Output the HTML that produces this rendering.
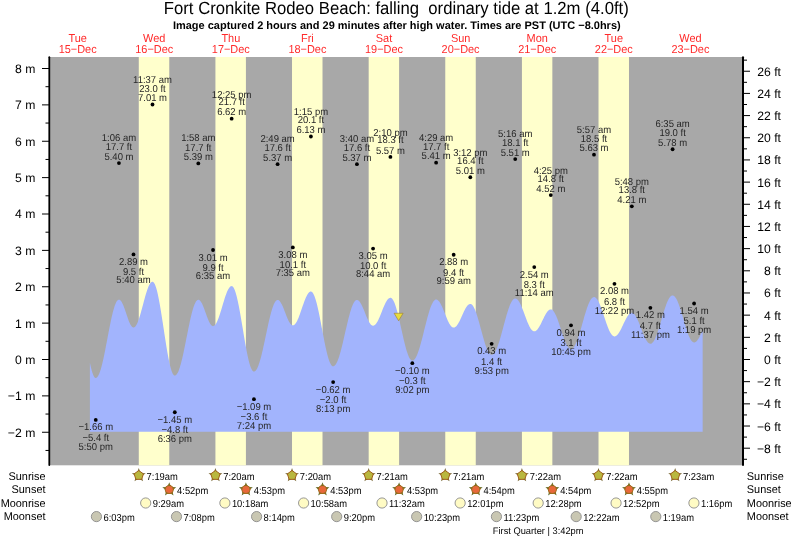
<!DOCTYPE html><html><head><meta charset="utf-8"><style>html,body{margin:0;padding:0;background:#fff;width:793px;height:539px;overflow:hidden}svg{display:block;will-change:transform}text{font-family:"Liberation Sans", sans-serif;text-rendering:geometricPrecision}</style></head><body>
<svg width="793" height="539" viewBox="0 0 793 539">
<text transform="translate(396.3,14.4) scale(0.949,1)" font-size="17.6" text-anchor="middle" fill="#000">Fort Cronkite Rodeo Beach: falling&#160; ordinary tide at 1.2m (4.0ft)</text>
<text transform="translate(396.8,28.8) scale(0.999,1)" font-size="11" font-weight="bold" text-anchor="middle" fill="#000">Image captured 2 hours and 29 minutes after high water. Times are PST (UTC −8.0hrs)</text>
<text transform="translate(77.63,41.8) scale(0.95,1)" font-size="11.5" text-anchor="middle" fill="#ff2a2a">Tue</text>
<text transform="translate(77.63,53.1) scale(0.95,1)" font-size="11.5" text-anchor="middle" fill="#ff2a2a">15−Dec</text>
<text transform="translate(154.22,41.8) scale(0.95,1)" font-size="11.5" text-anchor="middle" fill="#ff2a2a">Wed</text>
<text transform="translate(154.22,53.1) scale(0.95,1)" font-size="11.5" text-anchor="middle" fill="#ff2a2a">16−Dec</text>
<text transform="translate(230.82,41.8) scale(0.95,1)" font-size="11.5" text-anchor="middle" fill="#ff2a2a">Thu</text>
<text transform="translate(230.82,53.1) scale(0.95,1)" font-size="11.5" text-anchor="middle" fill="#ff2a2a">17−Dec</text>
<text transform="translate(307.42,41.8) scale(0.95,1)" font-size="11.5" text-anchor="middle" fill="#ff2a2a">Fri</text>
<text transform="translate(307.42,53.1) scale(0.95,1)" font-size="11.5" text-anchor="middle" fill="#ff2a2a">18−Dec</text>
<text transform="translate(384.01,41.8) scale(0.95,1)" font-size="11.5" text-anchor="middle" fill="#ff2a2a">Sat</text>
<text transform="translate(384.01,53.1) scale(0.95,1)" font-size="11.5" text-anchor="middle" fill="#ff2a2a">19−Dec</text>
<text transform="translate(460.61,41.8) scale(0.95,1)" font-size="11.5" text-anchor="middle" fill="#ff2a2a">Sun</text>
<text transform="translate(460.61,53.1) scale(0.95,1)" font-size="11.5" text-anchor="middle" fill="#ff2a2a">20−Dec</text>
<text transform="translate(537.20,41.8) scale(0.95,1)" font-size="11.5" text-anchor="middle" fill="#ff2a2a">Mon</text>
<text transform="translate(537.20,53.1) scale(0.95,1)" font-size="11.5" text-anchor="middle" fill="#ff2a2a">21−Dec</text>
<text transform="translate(613.80,41.8) scale(0.95,1)" font-size="11.5" text-anchor="middle" fill="#ff2a2a">Tue</text>
<text transform="translate(613.80,53.1) scale(0.95,1)" font-size="11.5" text-anchor="middle" fill="#ff2a2a">22−Dec</text>
<text transform="translate(690.40,41.8) scale(0.95,1)" font-size="11.5" text-anchor="middle" fill="#ff2a2a">Wed</text>
<text transform="translate(690.40,53.1) scale(0.95,1)" font-size="11.5" text-anchor="middle" fill="#ff2a2a">23−Dec</text>
<rect x="50.0" y="57.0" width="692.0" height="408.3" fill="#a8a8a8"/>
<rect x="138.78" y="57.0" width="30.48" height="408.3" fill="#ffffcc"/>
<rect x="215.43" y="57.0" width="30.48" height="408.3" fill="#ffffcc"/>
<rect x="292.02" y="57.0" width="30.48" height="408.3" fill="#ffffcc"/>
<rect x="368.67" y="57.0" width="30.43" height="408.3" fill="#ffffcc"/>
<rect x="445.27" y="57.0" width="30.48" height="408.3" fill="#ffffcc"/>
<rect x="521.92" y="57.0" width="30.43" height="408.3" fill="#ffffcc"/>
<rect x="598.51" y="57.0" width="30.48" height="408.3" fill="#ffffcc"/>
<path d="M89.89,431.70 L89.89,362.58 L90.40,365.01 L90.92,367.26 L91.43,369.32 L91.94,371.18 L92.45,372.83 L92.96,374.26 L93.47,375.46 L93.98,376.43 L94.49,377.16 L95.00,377.64 L95.51,377.88 L96.02,377.88 L96.53,377.68 L97.04,377.30 L97.55,376.74 L98.06,375.99 L98.57,375.06 L99.09,373.97 L99.60,372.70 L100.11,371.27 L100.62,369.68 L101.13,367.95 L101.64,366.08 L102.15,364.08 L102.66,361.95 L103.17,359.72 L103.68,357.38 L104.19,354.96 L104.70,352.46 L105.21,349.89 L105.72,347.27 L106.23,344.61 L106.75,341.92 L107.26,339.22 L107.77,336.51 L108.28,333.82 L108.79,331.15 L109.30,328.51 L109.81,325.92 L110.32,323.40 L110.83,320.95 L111.34,318.58 L111.85,316.31 L112.36,314.15 L112.87,312.11 L113.38,310.19 L113.89,308.41 L114.40,306.78 L114.92,305.29 L115.43,303.97 L115.94,302.82 L116.45,301.83 L116.96,301.03 L117.47,300.40 L117.98,299.96 L118.49,299.70 L119.00,299.63 L119.51,299.74 L120.02,300.01 L120.53,300.44 L121.04,301.04 L121.55,301.79 L122.06,302.67 L122.57,303.69 L123.09,304.83 L123.60,306.08 L124.11,307.41 L124.62,308.82 L125.13,310.29 L125.64,311.79 L126.15,313.32 L126.66,314.85 L127.17,316.36 L127.68,317.84 L128.19,319.27 L128.70,320.63 L129.21,321.90 L129.72,323.07 L130.23,324.13 L130.75,325.06 L131.26,325.85 L131.77,326.49 L132.28,326.97 L132.79,327.29 L133.30,327.44 L133.81,327.43 L134.32,327.25 L134.83,326.92 L135.34,326.42 L135.85,325.77 L136.36,324.96 L136.87,324.02 L137.38,322.93 L137.89,321.71 L138.40,320.37 L138.92,318.92 L139.43,317.37 L139.94,315.72 L140.45,314.00 L140.96,312.21 L141.47,310.36 L141.98,308.48 L142.49,306.57 L143.00,304.64 L143.51,302.71 L144.02,300.80 L144.53,298.91 L145.04,297.07 L145.55,295.27 L146.06,293.55 L146.58,291.90 L147.09,290.35 L147.60,288.89 L148.11,287.55 L148.62,286.33 L149.13,285.24 L149.64,284.29 L150.15,283.49 L150.66,282.83 L151.17,282.33 L151.68,281.99 L152.19,281.81 L152.70,281.80 L153.21,282.02 L153.72,282.48 L154.23,283.17 L154.75,284.11 L155.26,285.27 L155.77,286.66 L156.28,288.27 L156.79,290.09 L157.30,292.10 L157.81,294.31 L158.32,296.69 L158.83,299.24 L159.34,301.94 L159.85,304.78 L160.36,307.75 L160.87,310.82 L161.38,313.98 L161.89,317.23 L162.40,320.53 L162.92,323.87 L163.43,327.24 L163.94,330.61 L164.45,333.98 L164.96,337.31 L165.47,340.61 L165.98,343.84 L166.49,346.99 L167.00,350.05 L167.51,352.99 L168.02,355.82 L168.53,358.50 L169.04,361.02 L169.55,363.38 L170.06,365.56 L170.58,367.55 L171.09,369.33 L171.60,370.91 L172.11,372.27 L172.62,373.40 L173.13,374.30 L173.64,374.96 L174.15,375.39 L174.66,375.57 L175.17,375.53 L175.68,375.31 L176.19,374.91 L176.70,374.34 L177.21,373.60 L177.72,372.70 L178.23,371.63 L178.75,370.40 L179.26,369.02 L179.77,367.49 L180.28,365.82 L180.79,364.03 L181.30,362.11 L181.81,360.08 L182.32,357.94 L182.83,355.71 L183.34,353.39 L183.85,351.00 L184.36,348.55 L184.87,346.05 L185.38,343.51 L185.89,340.94 L186.40,338.36 L186.92,335.77 L187.43,333.19 L187.94,330.64 L188.45,328.11 L188.96,325.63 L189.47,323.21 L189.98,320.85 L190.49,318.58 L191.00,316.39 L191.51,314.29 L192.02,312.31 L192.53,310.45 L193.04,308.71 L193.55,307.11 L194.06,305.65 L194.58,304.34 L195.09,303.18 L195.60,302.19 L196.11,301.35 L196.62,300.69 L197.13,300.20 L197.64,299.89 L198.15,299.75 L198.66,299.78 L199.17,299.97 L199.68,300.31 L200.19,300.80 L200.70,301.44 L201.21,302.21 L201.72,303.11 L202.23,304.12 L202.75,305.24 L203.26,306.45 L203.77,307.74 L204.28,309.09 L204.79,310.48 L205.30,311.90 L205.81,313.34 L206.32,314.77 L206.83,316.18 L207.34,317.55 L207.85,318.86 L208.36,320.11 L208.87,321.27 L209.38,322.33 L209.89,323.28 L210.41,324.11 L210.92,324.81 L211.43,325.36 L211.94,325.77 L212.45,326.03 L212.96,326.13 L213.47,326.07 L213.98,325.87 L214.49,325.53 L215.00,325.03 L215.51,324.40 L216.02,323.64 L216.53,322.74 L217.04,321.72 L217.55,320.58 L218.06,319.34 L218.58,317.99 L219.09,316.56 L219.60,315.06 L220.11,313.48 L220.62,311.85 L221.13,310.18 L221.64,308.48 L222.15,306.76 L222.66,305.04 L223.17,303.32 L223.68,301.63 L224.19,299.97 L224.70,298.35 L225.21,296.79 L225.72,295.30 L226.23,293.89 L226.75,292.57 L227.26,291.36 L227.77,290.25 L228.28,289.26 L228.79,288.39 L229.30,287.66 L229.81,287.06 L230.32,286.61 L230.83,286.29 L231.34,286.13 L231.85,286.12 L232.36,286.32 L232.87,286.74 L233.38,287.37 L233.89,288.23 L234.41,289.29 L234.92,290.55 L235.43,292.02 L235.94,293.67 L236.45,295.51 L236.96,297.52 L237.47,299.69 L237.98,302.02 L238.49,304.48 L239.00,307.07 L239.51,309.77 L240.02,312.57 L240.53,315.45 L241.04,318.41 L241.55,321.42 L242.06,324.46 L242.58,327.53 L243.09,330.61 L243.60,333.67 L244.11,336.71 L244.62,339.72 L245.13,342.66 L245.64,345.53 L246.15,348.32 L246.66,351.01 L247.17,353.58 L247.68,356.02 L248.19,358.32 L248.70,360.47 L249.21,362.46 L249.72,364.27 L250.23,365.90 L250.75,367.33 L251.26,368.57 L251.77,369.60 L252.28,370.42 L252.79,371.03 L253.30,371.41 L253.81,371.58 L254.32,371.54 L254.83,371.33 L255.34,370.96 L255.85,370.43 L256.36,369.75 L256.87,368.90 L257.38,367.90 L257.89,366.76 L258.41,365.47 L258.92,364.05 L259.43,362.49 L259.94,360.82 L260.45,359.03 L260.96,357.13 L261.47,355.13 L261.98,353.05 L262.49,350.88 L263.00,348.65 L263.51,346.36 L264.02,344.02 L264.53,341.64 L265.04,339.23 L265.55,336.81 L266.06,334.38 L266.58,331.96 L267.09,329.56 L267.60,327.19 L268.11,324.85 L268.62,322.57 L269.13,320.34 L269.64,318.19 L270.15,316.12 L270.66,314.14 L271.17,312.25 L271.68,310.48 L272.19,308.82 L272.70,307.28 L273.21,305.88 L273.72,304.61 L274.24,303.49 L274.75,302.51 L275.26,301.69 L275.77,301.03 L276.28,300.52 L276.79,300.17 L277.30,299.99 L277.81,299.97 L278.32,300.10 L278.83,300.37 L279.34,300.77 L279.85,301.30 L280.36,301.96 L280.87,302.74 L281.38,303.63 L281.89,304.62 L282.41,305.70 L282.92,306.86 L283.43,308.08 L283.94,309.35 L284.45,310.66 L284.96,311.99 L285.47,313.33 L285.98,314.66 L286.49,315.97 L287.00,317.24 L287.51,318.46 L288.02,319.61 L288.53,320.69 L289.04,321.68 L289.55,322.57 L290.06,323.35 L290.58,324.01 L291.09,324.55 L291.60,324.95 L292.11,325.21 L292.62,325.34 L293.13,325.33 L293.64,325.18 L294.15,324.90 L294.66,324.49 L295.17,323.96 L295.68,323.31 L296.19,322.53 L296.70,321.65 L297.21,320.66 L297.72,319.58 L298.24,318.41 L298.75,317.16 L299.26,315.84 L299.77,314.46 L300.28,313.04 L300.79,311.58 L301.30,310.10 L301.81,308.60 L302.32,307.10 L302.83,305.61 L303.34,304.15 L303.85,302.72 L304.36,301.33 L304.87,300.00 L305.38,298.73 L305.89,297.55 L306.41,296.44 L306.92,295.44 L307.43,294.53 L307.94,293.73 L308.45,293.05 L308.96,292.49 L309.47,292.06 L309.98,291.75 L310.49,291.58 L311.00,291.54 L311.51,291.67 L312.02,292.00 L312.53,292.52 L313.04,293.23 L313.55,294.13 L314.06,295.20 L314.58,296.46 L315.09,297.88 L315.60,299.46 L316.11,301.20 L316.62,303.08 L317.13,305.09 L317.64,307.23 L318.15,309.49 L318.66,311.84 L319.17,314.29 L319.68,316.81 L320.19,319.39 L320.70,322.02 L321.21,324.69 L321.72,327.38 L322.24,330.08 L322.75,332.77 L323.26,335.45 L323.77,338.09 L324.28,340.68 L324.79,343.21 L325.30,345.67 L325.81,348.04 L326.32,350.31 L326.83,352.47 L327.34,354.50 L327.85,356.41 L328.36,358.17 L328.87,359.78 L329.38,361.23 L329.89,362.51 L330.41,363.62 L330.92,364.54 L331.43,365.28 L331.94,365.84 L332.45,366.20 L332.96,366.36 L333.47,366.34 L333.98,366.17 L334.49,365.85 L335.00,365.37 L335.51,364.76 L336.02,363.99 L336.53,363.09 L337.04,362.05 L337.55,360.88 L338.07,359.59 L338.58,358.17 L339.09,356.64 L339.60,355.00 L340.11,353.27 L340.62,351.44 L341.13,349.53 L341.64,347.54 L342.15,345.49 L342.66,343.38 L343.17,341.23 L343.68,339.04 L344.19,336.82 L344.70,334.59 L345.21,332.35 L345.72,330.12 L346.24,327.89 L346.75,325.69 L347.26,323.53 L347.77,321.41 L348.28,319.34 L348.79,317.34 L349.30,315.41 L349.81,313.56 L350.32,311.79 L350.83,310.13 L351.34,308.57 L351.85,307.12 L352.36,305.79 L352.87,304.59 L353.38,303.51 L353.89,302.57 L354.41,301.77 L354.92,301.11 L355.43,300.60 L355.94,300.24 L356.45,300.03 L356.96,299.96 L357.47,300.04 L357.98,300.24 L358.49,300.56 L359.00,301.00 L359.51,301.56 L360.02,302.23 L360.53,303.01 L361.04,303.88 L361.55,304.84 L362.07,305.88 L362.58,306.98 L363.09,308.15 L363.60,309.36 L364.11,310.60 L364.62,311.87 L365.13,313.14 L365.64,314.41 L366.15,315.67 L366.66,316.90 L367.17,318.09 L367.68,319.22 L368.19,320.30 L368.70,321.30 L369.21,322.21 L369.72,323.04 L370.24,323.76 L370.75,324.38 L371.26,324.88 L371.77,325.26 L372.28,325.53 L372.79,325.66 L373.30,325.67 L373.81,325.56 L374.32,325.34 L374.83,324.99 L375.34,324.53 L375.85,323.97 L376.36,323.29 L376.87,322.52 L377.38,321.66 L377.89,320.71 L378.41,319.68 L378.92,318.59 L379.43,317.44 L379.94,316.24 L380.45,315.00 L380.96,313.73 L381.47,312.44 L381.98,311.15 L382.49,309.86 L383.00,308.59 L383.51,307.35 L384.02,306.14 L384.53,304.98 L385.04,303.88 L385.55,302.84 L386.07,301.88 L386.58,301.01 L387.09,300.23 L387.60,299.54 L388.11,298.96 L388.62,298.49 L389.13,298.13 L389.64,297.89 L390.15,297.76 L390.66,297.76 L391.17,297.92 L391.68,298.25 L392.19,298.75 L392.70,299.40 L393.21,300.22 L393.72,301.19 L394.24,302.31 L394.75,303.58 L395.26,304.98 L395.77,306.51 L396.28,308.17 L396.79,309.93 L397.30,311.80 L397.81,313.77 L398.32,315.81 L398.83,317.93 L399.34,320.10 L399.85,322.33 L400.36,324.59 L400.87,326.88 L401.38,329.18 L401.90,331.48 L402.41,333.76 L402.92,336.02 L403.43,338.25 L403.94,340.43 L404.45,342.54 L404.96,344.59 L405.47,346.55 L405.98,348.42 L406.49,350.19 L407.00,351.84 L407.51,353.37 L408.02,354.77 L408.53,356.04 L409.04,357.16 L409.55,358.13 L410.07,358.95 L410.58,359.61 L411.09,360.10 L411.60,360.43 L412.11,360.59 L412.62,360.59 L413.13,360.44 L413.64,360.16 L414.15,359.74 L414.66,359.19 L415.17,358.50 L415.68,357.68 L416.19,356.74 L416.70,355.68 L417.21,354.49 L417.72,353.20 L418.24,351.81 L418.75,350.31 L419.26,348.72 L419.77,347.05 L420.28,345.30 L420.79,343.48 L421.30,341.60 L421.81,339.67 L422.32,337.69 L422.83,335.68 L423.34,333.64 L423.85,331.59 L424.36,329.53 L424.87,327.47 L425.38,325.42 L425.90,323.40 L426.41,321.40 L426.92,319.45 L427.43,317.54 L427.94,315.69 L428.45,313.91 L428.96,312.20 L429.47,310.57 L429.98,309.03 L430.49,307.58 L431.00,306.24 L431.51,305.00 L432.02,303.88 L432.53,302.88 L433.04,302.00 L433.55,301.25 L434.07,300.64 L434.58,300.15 L435.09,299.80 L435.60,299.59 L436.11,299.52 L436.62,299.57 L437.13,299.75 L437.64,300.04 L438.15,300.44 L438.66,300.95 L439.17,301.56 L439.68,302.28 L440.19,303.09 L440.70,303.98 L441.21,304.96 L441.72,306.01 L442.24,307.12 L442.75,308.28 L443.26,309.49 L443.77,310.73 L444.28,312.00 L444.79,313.28 L445.30,314.56 L445.81,315.83 L446.32,317.08 L446.83,318.31 L447.34,319.49 L447.85,320.63 L448.36,321.70 L448.87,322.71 L449.38,323.64 L449.90,324.49 L450.41,325.24 L450.92,325.90 L451.43,326.45 L451.94,326.90 L452.45,327.23 L452.96,327.46 L453.47,327.56 L453.98,327.55 L454.49,327.43 L455.00,327.20 L455.51,326.86 L456.02,326.43 L456.53,325.89 L457.04,325.26 L457.55,324.54 L458.07,323.74 L458.58,322.86 L459.09,321.92 L459.60,320.93 L460.11,319.88 L460.62,318.80 L461.13,317.68 L461.64,316.55 L462.15,315.42 L462.66,314.28 L463.17,313.16 L463.68,312.07 L464.19,311.01 L464.70,309.99 L465.21,309.02 L465.73,308.12 L466.24,307.29 L466.75,306.54 L467.26,305.87 L467.77,305.30 L468.28,304.82 L468.79,304.44 L469.30,304.17 L469.81,304.01 L470.32,303.95 L470.83,304.03 L471.34,304.24 L471.85,304.60 L472.36,305.09 L472.87,305.73 L473.38,306.50 L473.90,307.39 L474.41,308.41 L474.92,309.55 L475.43,310.80 L475.94,312.16 L476.45,313.61 L476.96,315.15 L477.47,316.77 L477.98,318.47 L478.49,320.22 L479.00,322.03 L479.51,323.88 L480.02,325.75 L480.53,327.65 L481.04,329.56 L481.55,331.47 L482.07,333.36 L482.58,335.24 L483.09,337.08 L483.60,338.87 L484.11,340.61 L484.62,342.29 L485.13,343.89 L485.64,345.42 L486.15,346.85 L486.66,348.18 L487.17,349.41 L487.68,350.52 L488.19,351.51 L488.70,352.38 L489.21,353.12 L489.73,353.72 L490.24,354.18 L490.75,354.51 L491.26,354.69 L491.77,354.73 L492.28,354.63 L492.79,354.41 L493.30,354.05 L493.81,353.57 L494.32,352.97 L494.83,352.24 L495.34,351.39 L495.85,350.43 L496.36,349.35 L496.87,348.18 L497.38,346.90 L497.90,345.52 L498.41,344.06 L498.92,342.52 L499.43,340.90 L499.94,339.22 L500.45,337.48 L500.96,335.69 L501.47,333.86 L501.98,331.99 L502.49,330.10 L503.00,328.19 L503.51,326.27 L504.02,324.36 L504.53,322.45 L505.04,320.57 L505.55,318.71 L506.07,316.89 L506.58,315.11 L507.09,313.39 L507.60,311.73 L508.11,310.13 L508.62,308.61 L509.13,307.18 L509.64,305.84 L510.15,304.59 L510.66,303.44 L511.17,302.40 L511.68,301.47 L512.19,300.66 L512.70,299.97 L513.21,299.41 L513.73,298.96 L514.24,298.65 L514.75,298.46 L515.26,298.41 L515.77,298.48 L516.28,298.66 L516.79,298.96 L517.30,299.37 L517.81,299.90 L518.32,300.53 L518.83,301.26 L519.34,302.08 L519.85,303.00 L520.36,304.00 L520.87,305.08 L521.38,306.23 L521.90,307.44 L522.41,308.70 L522.92,310.01 L523.43,311.35 L523.94,312.71 L524.45,314.09 L524.96,315.48 L525.47,316.86 L525.98,318.23 L526.49,319.58 L527.00,320.89 L527.51,322.16 L528.02,323.37 L528.53,324.53 L529.04,325.62 L529.56,326.63 L530.07,327.56 L530.58,328.40 L531.09,329.14 L531.60,329.78 L532.11,330.31 L532.62,330.74 L533.13,331.05 L533.64,331.25 L534.15,331.34 L534.66,331.31 L535.17,331.17 L535.68,330.94 L536.19,330.61 L536.70,330.17 L537.21,329.65 L537.73,329.04 L538.24,328.35 L538.75,327.59 L539.26,326.75 L539.77,325.86 L540.28,324.91 L540.79,323.92 L541.30,322.90 L541.81,321.85 L542.32,320.79 L542.83,319.73 L543.34,318.67 L543.85,317.63 L544.36,316.61 L544.87,315.63 L545.38,314.70 L545.90,313.81 L546.41,312.99 L546.92,312.24 L547.43,311.56 L547.94,310.97 L548.45,310.46 L548.96,310.05 L549.47,309.73 L549.98,309.52 L550.49,309.41 L551.00,309.40 L551.51,309.51 L552.02,309.74 L552.53,310.10 L553.04,310.58 L553.56,311.18 L554.07,311.89 L554.58,312.71 L555.09,313.63 L555.60,314.65 L556.11,315.77 L556.62,316.97 L557.13,318.24 L557.64,319.59 L558.15,320.99 L558.66,322.45 L559.17,323.95 L559.68,325.48 L560.19,327.04 L560.70,328.61 L561.21,330.18 L561.73,331.75 L562.24,333.30 L562.75,334.83 L563.26,336.32 L563.77,337.77 L564.28,339.16 L564.79,340.50 L565.30,341.76 L565.81,342.94 L566.32,344.03 L566.83,345.03 L567.34,345.94 L567.85,346.73 L568.36,347.42 L568.87,347.99 L569.38,348.45 L569.90,348.78 L570.41,348.99 L570.92,349.08 L571.43,349.04 L571.94,348.87 L572.45,348.58 L572.96,348.16 L573.47,347.62 L573.98,346.97 L574.49,346.19 L575.00,345.31 L575.51,344.31 L576.02,343.21 L576.53,342.02 L577.04,340.73 L577.56,339.35 L578.07,337.90 L578.58,336.37 L579.09,334.78 L579.60,333.13 L580.11,331.44 L580.62,329.70 L581.13,327.93 L581.64,326.13 L582.15,324.33 L582.66,322.51 L583.17,320.70 L583.68,318.90 L584.19,317.12 L584.70,315.37 L585.21,313.66 L585.73,311.99 L586.24,310.38 L586.75,308.82 L587.26,307.34 L587.77,305.94 L588.28,304.61 L588.79,303.38 L589.30,302.25 L589.81,301.21 L590.32,300.28 L590.83,299.47 L591.34,298.77 L591.85,298.18 L592.36,297.72 L592.87,297.38 L593.39,297.17 L593.90,297.08 L594.41,297.12 L594.92,297.28 L595.43,297.56 L595.94,297.95 L596.45,298.46 L596.96,299.08 L597.47,299.82 L597.98,300.65 L598.49,301.59 L599.00,302.61 L599.51,303.73 L600.02,304.92 L600.53,306.19 L601.04,307.52 L601.56,308.91 L602.07,310.34 L602.58,311.82 L603.09,313.32 L603.60,314.85 L604.11,316.39 L604.62,317.93 L605.13,319.46 L605.64,320.98 L606.15,322.47 L606.66,323.93 L607.17,325.34 L607.68,326.70 L608.19,328.00 L608.70,329.23 L609.21,330.38 L609.73,331.45 L610.24,332.43 L610.75,333.31 L611.26,334.10 L611.77,334.77 L612.28,335.34 L612.79,335.79 L613.30,336.12 L613.81,336.34 L614.32,336.43 L614.83,336.41 L615.34,336.29 L615.85,336.07 L616.36,335.75 L616.87,335.34 L617.39,334.83 L617.90,334.24 L618.41,333.56 L618.92,332.81 L619.43,331.99 L619.94,331.10 L620.45,330.16 L620.96,329.18 L621.47,328.15 L621.98,327.09 L622.49,326.02 L623.00,324.93 L623.51,323.84 L624.02,322.75 L624.53,321.68 L625.04,320.64 L625.56,319.63 L626.07,318.66 L626.58,317.75 L627.09,316.89 L627.60,316.10 L628.11,315.38 L628.62,314.74 L629.13,314.19 L629.64,313.72 L630.15,313.35 L630.66,313.08 L631.17,312.90 L631.68,312.83 L632.19,312.86 L632.70,313.00 L633.21,313.26 L633.73,313.63 L634.24,314.11 L634.75,314.69 L635.26,315.38 L635.77,316.16 L636.28,317.04 L636.79,318.00 L637.30,319.03 L637.81,320.13 L638.32,321.30 L638.83,322.52 L639.34,323.78 L639.85,325.07 L640.36,326.39 L640.87,327.72 L641.39,329.06 L641.90,330.39 L642.41,331.70 L642.92,332.99 L643.43,334.24 L643.94,335.45 L644.45,336.61 L644.96,337.70 L645.47,338.73 L645.98,339.67 L646.49,340.54 L647.00,341.31 L647.51,341.98 L648.02,342.55 L648.53,343.01 L649.04,343.37 L649.56,343.61 L650.07,343.74 L650.58,343.75 L651.09,343.63 L651.60,343.40 L652.11,343.03 L652.62,342.55 L653.13,341.95 L653.64,341.23 L654.15,340.40 L654.66,339.46 L655.17,338.41 L655.68,337.27 L656.19,336.04 L656.70,334.72 L657.22,333.32 L657.73,331.85 L658.24,330.32 L658.75,328.73 L659.26,327.09 L659.77,325.41 L660.28,323.71 L660.79,321.98 L661.30,320.24 L661.81,318.50 L662.32,316.76 L662.83,315.04 L663.34,313.34 L663.85,311.67 L664.36,310.04 L664.87,308.47 L665.39,306.95 L665.90,305.50 L666.41,304.12 L666.92,302.82 L667.43,301.61 L667.94,300.49 L668.45,299.47 L668.96,298.56 L669.47,297.75 L669.98,297.06 L670.49,296.49 L671.00,296.04 L671.51,295.71 L672.02,295.50 L672.53,295.42 L673.04,295.46 L673.56,295.64 L674.07,295.95 L674.58,296.38 L675.09,296.94 L675.60,297.63 L676.11,298.43 L676.62,299.34 L677.13,300.37 L677.64,301.49 L678.15,302.72 L678.66,304.03 L679.17,305.43 L679.68,306.91 L680.19,308.45 L680.70,310.04 L681.22,311.69 L681.73,313.38 L682.24,315.10 L682.75,316.84 L683.26,318.59 L683.77,320.35 L684.28,322.09 L684.79,323.82 L685.30,325.52 L685.81,327.19 L686.32,328.80 L686.83,330.37 L687.34,331.87 L687.85,333.29 L688.36,334.64 L688.87,335.90 L689.39,337.06 L689.90,338.13 L690.41,339.09 L690.92,339.93 L691.43,340.66 L691.94,341.26 L692.45,341.75 L692.96,342.10 L693.47,342.33 L693.98,342.42 L694.49,342.39 L695.00,342.26 L695.51,342.02 L696.02,341.67 L696.53,341.23 L697.04,340.69 L697.56,340.05 L698.07,339.33 L698.58,338.52 L699.09,337.64 L699.60,336.69 L700.11,335.68 L700.62,334.61 L701.13,333.50 L701.64,332.35 L702.15,331.18 L702.66,329.98 L702.66,431.70 Z" fill="#a2b4fd"/>
<line x1="49.3" y1="57.2" x2="49.3" y2="465" stroke="#000" stroke-width="1.8" stroke-linecap="round"/>
<line x1="743" y1="57.2" x2="743" y2="465" stroke="#000" stroke-width="2" stroke-linecap="round"/>
<line x1="45.5" y1="450.44" x2="49" y2="450.44" stroke="#000" stroke-width="1"/>
<line x1="42" y1="432.25" x2="49" y2="432.25" stroke="#000" stroke-width="1"/>
<text x="35.3" y="436.65" font-size="12.2" text-anchor="end" fill="#000">−2 m</text>
<line x1="45.5" y1="414.06" x2="49" y2="414.06" stroke="#000" stroke-width="1"/>
<line x1="42" y1="395.88" x2="49" y2="395.88" stroke="#000" stroke-width="1"/>
<text x="35.3" y="400.27" font-size="12.2" text-anchor="end" fill="#000">−1 m</text>
<line x1="45.5" y1="377.69" x2="49" y2="377.69" stroke="#000" stroke-width="1"/>
<line x1="42" y1="359.50" x2="49" y2="359.50" stroke="#000" stroke-width="1"/>
<text x="35.3" y="363.90" font-size="12.2" text-anchor="end" fill="#000">0 m</text>
<line x1="45.5" y1="341.31" x2="49" y2="341.31" stroke="#000" stroke-width="1"/>
<line x1="42" y1="323.12" x2="49" y2="323.12" stroke="#000" stroke-width="1"/>
<text x="35.3" y="327.52" font-size="12.2" text-anchor="end" fill="#000">1 m</text>
<line x1="45.5" y1="304.94" x2="49" y2="304.94" stroke="#000" stroke-width="1"/>
<line x1="42" y1="286.75" x2="49" y2="286.75" stroke="#000" stroke-width="1"/>
<text x="35.3" y="291.15" font-size="12.2" text-anchor="end" fill="#000">2 m</text>
<line x1="45.5" y1="268.56" x2="49" y2="268.56" stroke="#000" stroke-width="1"/>
<line x1="42" y1="250.38" x2="49" y2="250.38" stroke="#000" stroke-width="1"/>
<text x="35.3" y="254.78" font-size="12.2" text-anchor="end" fill="#000">3 m</text>
<line x1="45.5" y1="232.19" x2="49" y2="232.19" stroke="#000" stroke-width="1"/>
<line x1="42" y1="214.00" x2="49" y2="214.00" stroke="#000" stroke-width="1"/>
<text x="35.3" y="218.40" font-size="12.2" text-anchor="end" fill="#000">4 m</text>
<line x1="45.5" y1="195.81" x2="49" y2="195.81" stroke="#000" stroke-width="1"/>
<line x1="42" y1="177.62" x2="49" y2="177.62" stroke="#000" stroke-width="1"/>
<text x="35.3" y="182.03" font-size="12.2" text-anchor="end" fill="#000">5 m</text>
<line x1="45.5" y1="159.44" x2="49" y2="159.44" stroke="#000" stroke-width="1"/>
<line x1="42" y1="141.25" x2="49" y2="141.25" stroke="#000" stroke-width="1"/>
<text x="35.3" y="145.65" font-size="12.2" text-anchor="end" fill="#000">6 m</text>
<line x1="45.5" y1="123.06" x2="49" y2="123.06" stroke="#000" stroke-width="1"/>
<line x1="42" y1="104.88" x2="49" y2="104.88" stroke="#000" stroke-width="1"/>
<text x="35.3" y="109.28" font-size="12.2" text-anchor="end" fill="#000">7 m</text>
<line x1="45.5" y1="86.69" x2="49" y2="86.69" stroke="#000" stroke-width="1"/>
<line x1="42" y1="68.50" x2="49" y2="68.50" stroke="#000" stroke-width="1"/>
<text x="35.3" y="72.90" font-size="12.2" text-anchor="end" fill="#000">8 m</text>
<line x1="744" y1="459.28" x2="747" y2="459.28" stroke="#000" stroke-width="1"/>
<line x1="744" y1="448.20" x2="750" y2="448.20" stroke="#000" stroke-width="1"/>
<text x="781" y="452.70" font-size="12.2" text-anchor="end" fill="#000">−8 ft</text>
<line x1="744" y1="437.11" x2="747" y2="437.11" stroke="#000" stroke-width="1"/>
<line x1="744" y1="426.02" x2="750" y2="426.02" stroke="#000" stroke-width="1"/>
<text x="781" y="430.52" font-size="12.2" text-anchor="end" fill="#000">−6 ft</text>
<line x1="744" y1="414.94" x2="747" y2="414.94" stroke="#000" stroke-width="1"/>
<line x1="744" y1="403.85" x2="750" y2="403.85" stroke="#000" stroke-width="1"/>
<text x="781" y="408.35" font-size="12.2" text-anchor="end" fill="#000">−4 ft</text>
<line x1="744" y1="392.76" x2="747" y2="392.76" stroke="#000" stroke-width="1"/>
<line x1="744" y1="381.67" x2="750" y2="381.67" stroke="#000" stroke-width="1"/>
<text x="781" y="386.17" font-size="12.2" text-anchor="end" fill="#000">−2 ft</text>
<line x1="744" y1="370.59" x2="747" y2="370.59" stroke="#000" stroke-width="1"/>
<line x1="744" y1="359.50" x2="750" y2="359.50" stroke="#000" stroke-width="1"/>
<text x="781" y="364.00" font-size="12.2" text-anchor="end" fill="#000">0 ft</text>
<line x1="744" y1="348.41" x2="747" y2="348.41" stroke="#000" stroke-width="1"/>
<line x1="744" y1="337.33" x2="750" y2="337.33" stroke="#000" stroke-width="1"/>
<text x="781" y="341.83" font-size="12.2" text-anchor="end" fill="#000">2 ft</text>
<line x1="744" y1="326.24" x2="747" y2="326.24" stroke="#000" stroke-width="1"/>
<line x1="744" y1="315.15" x2="750" y2="315.15" stroke="#000" stroke-width="1"/>
<text x="781" y="319.65" font-size="12.2" text-anchor="end" fill="#000">4 ft</text>
<line x1="744" y1="304.06" x2="747" y2="304.06" stroke="#000" stroke-width="1"/>
<line x1="744" y1="292.98" x2="750" y2="292.98" stroke="#000" stroke-width="1"/>
<text x="781" y="297.48" font-size="12.2" text-anchor="end" fill="#000">6 ft</text>
<line x1="744" y1="281.89" x2="747" y2="281.89" stroke="#000" stroke-width="1"/>
<line x1="744" y1="270.80" x2="750" y2="270.80" stroke="#000" stroke-width="1"/>
<text x="781" y="275.30" font-size="12.2" text-anchor="end" fill="#000">8 ft</text>
<line x1="744" y1="259.72" x2="747" y2="259.72" stroke="#000" stroke-width="1"/>
<line x1="744" y1="248.63" x2="750" y2="248.63" stroke="#000" stroke-width="1"/>
<text x="781" y="253.13" font-size="12.2" text-anchor="end" fill="#000">10 ft</text>
<line x1="744" y1="237.54" x2="747" y2="237.54" stroke="#000" stroke-width="1"/>
<line x1="744" y1="226.45" x2="750" y2="226.45" stroke="#000" stroke-width="1"/>
<text x="781" y="230.95" font-size="12.2" text-anchor="end" fill="#000">12 ft</text>
<line x1="744" y1="215.37" x2="747" y2="215.37" stroke="#000" stroke-width="1"/>
<line x1="744" y1="204.28" x2="750" y2="204.28" stroke="#000" stroke-width="1"/>
<text x="781" y="208.78" font-size="12.2" text-anchor="end" fill="#000">14 ft</text>
<line x1="744" y1="193.19" x2="747" y2="193.19" stroke="#000" stroke-width="1"/>
<line x1="744" y1="182.11" x2="750" y2="182.11" stroke="#000" stroke-width="1"/>
<text x="781" y="186.61" font-size="12.2" text-anchor="end" fill="#000">16 ft</text>
<line x1="744" y1="171.02" x2="747" y2="171.02" stroke="#000" stroke-width="1"/>
<line x1="744" y1="159.93" x2="750" y2="159.93" stroke="#000" stroke-width="1"/>
<text x="781" y="164.43" font-size="12.2" text-anchor="end" fill="#000">18 ft</text>
<line x1="744" y1="148.85" x2="747" y2="148.85" stroke="#000" stroke-width="1"/>
<line x1="744" y1="137.76" x2="750" y2="137.76" stroke="#000" stroke-width="1"/>
<text x="781" y="142.26" font-size="12.2" text-anchor="end" fill="#000">20 ft</text>
<line x1="744" y1="126.67" x2="747" y2="126.67" stroke="#000" stroke-width="1"/>
<line x1="744" y1="115.58" x2="750" y2="115.58" stroke="#000" stroke-width="1"/>
<text x="781" y="120.08" font-size="12.2" text-anchor="end" fill="#000">22 ft</text>
<line x1="744" y1="104.50" x2="747" y2="104.50" stroke="#000" stroke-width="1"/>
<line x1="744" y1="93.41" x2="750" y2="93.41" stroke="#000" stroke-width="1"/>
<text x="781" y="97.91" font-size="12.2" text-anchor="end" fill="#000">24 ft</text>
<line x1="744" y1="82.32" x2="747" y2="82.32" stroke="#000" stroke-width="1"/>
<line x1="744" y1="71.24" x2="750" y2="71.24" stroke="#000" stroke-width="1"/>
<text x="781" y="75.74" font-size="12.2" text-anchor="end" fill="#000">26 ft</text>
<line x1="744" y1="60.15" x2="747" y2="60.15" stroke="#000" stroke-width="1"/>
<polygon points="394.10,313.25 403.10,313.25 398.60,320.75" fill="#e8dc3c" stroke="#9a7a30" stroke-width="0.6"/>
<circle cx="118.94" cy="163.07" r="1.9" fill="#000"/>
<text transform="translate(118.94,159.77) scale(0.95,1)" font-size="10.0" text-anchor="middle" fill="#262626">5.40 m</text>
<text transform="translate(118.94,150.17) scale(0.95,1)" font-size="10.0" text-anchor="middle" fill="#262626">17.7 ft</text>
<text transform="translate(118.94,141.07) scale(0.95,1)" font-size="10.0" text-anchor="middle" fill="#262626">1:06 am</text>
<circle cx="152.50" cy="104.51" r="1.9" fill="#000"/>
<text transform="translate(152.50,101.21) scale(0.95,1)" font-size="10.0" text-anchor="middle" fill="#262626">7.01 m</text>
<text transform="translate(152.50,91.61) scale(0.95,1)" font-size="10.0" text-anchor="middle" fill="#262626">23.0 ft</text>
<text transform="translate(152.50,82.51) scale(0.95,1)" font-size="10.0" text-anchor="middle" fill="#262626">11:37 am</text>
<circle cx="198.30" cy="163.44" r="1.9" fill="#000"/>
<text transform="translate(198.30,160.14) scale(0.95,1)" font-size="10.0" text-anchor="middle" fill="#262626">5.39 m</text>
<text transform="translate(198.30,150.54) scale(0.95,1)" font-size="10.0" text-anchor="middle" fill="#262626">17.7 ft</text>
<text transform="translate(198.30,141.44) scale(0.95,1)" font-size="10.0" text-anchor="middle" fill="#262626">1:58 am</text>
<circle cx="231.65" cy="118.70" r="1.9" fill="#000"/>
<text transform="translate(231.65,115.40) scale(0.95,1)" font-size="10.0" text-anchor="middle" fill="#262626">6.62 m</text>
<text transform="translate(231.65,105.30) scale(0.95,1)" font-size="10.0" text-anchor="middle" fill="#262626">21.7 ft</text>
<text transform="translate(231.65,97.70) scale(0.95,1)" font-size="10.0" text-anchor="middle" fill="#262626">12:25 pm</text>
<circle cx="277.61" cy="164.17" r="1.9" fill="#000"/>
<text transform="translate(277.61,160.87) scale(0.95,1)" font-size="10.0" text-anchor="middle" fill="#262626">5.37 m</text>
<text transform="translate(277.61,151.27) scale(0.95,1)" font-size="10.0" text-anchor="middle" fill="#262626">17.6 ft</text>
<text transform="translate(277.61,142.17) scale(0.95,1)" font-size="10.0" text-anchor="middle" fill="#262626">2:49 am</text>
<circle cx="310.91" cy="136.52" r="1.9" fill="#000"/>
<text transform="translate(310.91,133.22) scale(0.95,1)" font-size="10.0" text-anchor="middle" fill="#262626">6.13 m</text>
<text transform="translate(310.91,123.12) scale(0.95,1)" font-size="10.0" text-anchor="middle" fill="#262626">20.1 ft</text>
<text transform="translate(310.91,114.52) scale(0.95,1)" font-size="10.0" text-anchor="middle" fill="#262626">1:15 pm</text>
<circle cx="356.92" cy="164.17" r="1.9" fill="#000"/>
<text transform="translate(356.92,160.87) scale(0.95,1)" font-size="10.0" text-anchor="middle" fill="#262626">5.37 m</text>
<text transform="translate(356.92,151.27) scale(0.95,1)" font-size="10.0" text-anchor="middle" fill="#262626">17.6 ft</text>
<text transform="translate(356.92,142.17) scale(0.95,1)" font-size="10.0" text-anchor="middle" fill="#262626">3:40 am</text>
<circle cx="390.43" cy="156.89" r="1.9" fill="#000"/>
<text transform="translate(390.43,153.59) scale(0.95,1)" font-size="10.0" text-anchor="middle" fill="#262626">5.57 m</text>
<text transform="translate(390.43,143.49) scale(0.95,1)" font-size="10.0" text-anchor="middle" fill="#262626">18.3 ft</text>
<text transform="translate(390.43,135.89) scale(0.95,1)" font-size="10.0" text-anchor="middle" fill="#262626">2:10 pm</text>
<circle cx="436.12" cy="162.71" r="1.9" fill="#000"/>
<text transform="translate(436.12,159.41) scale(0.95,1)" font-size="10.0" text-anchor="middle" fill="#262626">5.41 m</text>
<text transform="translate(436.12,149.81) scale(0.95,1)" font-size="10.0" text-anchor="middle" fill="#262626">17.7 ft</text>
<text transform="translate(436.12,140.71) scale(0.95,1)" font-size="10.0" text-anchor="middle" fill="#262626">4:29 am</text>
<circle cx="470.32" cy="177.26" r="1.9" fill="#000"/>
<text transform="translate(470.32,173.96) scale(0.95,1)" font-size="10.0" text-anchor="middle" fill="#262626">5.01 m</text>
<text transform="translate(470.32,163.86) scale(0.95,1)" font-size="10.0" text-anchor="middle" fill="#262626">16.4 ft</text>
<text transform="translate(470.32,156.26) scale(0.95,1)" font-size="10.0" text-anchor="middle" fill="#262626">3:12 pm</text>
<circle cx="515.21" cy="159.07" r="1.9" fill="#000"/>
<text transform="translate(515.21,155.77) scale(0.95,1)" font-size="10.0" text-anchor="middle" fill="#262626">5.51 m</text>
<text transform="translate(515.21,146.17) scale(0.95,1)" font-size="10.0" text-anchor="middle" fill="#262626">18.1 ft</text>
<text transform="translate(515.21,137.07) scale(0.95,1)" font-size="10.0" text-anchor="middle" fill="#262626">5:16 am</text>
<circle cx="550.80" cy="195.09" r="1.9" fill="#000"/>
<text transform="translate(550.80,191.78) scale(0.95,1)" font-size="10.0" text-anchor="middle" fill="#262626">4.52 m</text>
<text transform="translate(550.80,181.69) scale(0.95,1)" font-size="10.0" text-anchor="middle" fill="#262626">14.8 ft</text>
<text transform="translate(550.80,174.09) scale(0.95,1)" font-size="10.0" text-anchor="middle" fill="#262626">4:25 pm</text>
<circle cx="593.99" cy="154.71" r="1.9" fill="#000"/>
<text transform="translate(593.99,151.41) scale(0.95,1)" font-size="10.0" text-anchor="middle" fill="#262626">5.63 m</text>
<text transform="translate(593.99,141.81) scale(0.95,1)" font-size="10.0" text-anchor="middle" fill="#262626">18.5 ft</text>
<text transform="translate(593.99,132.71) scale(0.95,1)" font-size="10.0" text-anchor="middle" fill="#262626">5:57 am</text>
<circle cx="631.81" cy="206.36" r="1.9" fill="#000"/>
<text transform="translate(631.81,203.06) scale(0.95,1)" font-size="10.0" text-anchor="middle" fill="#262626">4.21 m</text>
<text transform="translate(631.81,192.96) scale(0.95,1)" font-size="10.0" text-anchor="middle" fill="#262626">13.8 ft</text>
<text transform="translate(631.81,185.36) scale(0.95,1)" font-size="10.0" text-anchor="middle" fill="#262626">5:48 pm</text>
<circle cx="672.61" cy="149.25" r="1.9" fill="#000"/>
<text transform="translate(672.61,145.95) scale(0.95,1)" font-size="10.0" text-anchor="middle" fill="#262626">5.78 m</text>
<text transform="translate(672.61,136.35) scale(0.95,1)" font-size="10.0" text-anchor="middle" fill="#262626">19.0 ft</text>
<text transform="translate(672.61,127.25) scale(0.95,1)" font-size="10.0" text-anchor="middle" fill="#262626">6:35 am</text>
<circle cx="95.75" cy="419.88" r="1.9" fill="#000"/>
<text transform="translate(95.75,430.38) scale(0.95,1)" font-size="10.0" text-anchor="middle" fill="#262626">−1.66 m</text>
<text transform="translate(95.75,440.78) scale(0.95,1)" font-size="10.0" text-anchor="middle" fill="#262626">−5.4 ft</text>
<text transform="translate(95.75,449.88) scale(0.95,1)" font-size="10.0" text-anchor="middle" fill="#262626">5:50 pm</text>
<circle cx="133.51" cy="254.38" r="1.9" fill="#000"/>
<text transform="translate(133.51,264.88) scale(0.95,1)" font-size="10.0" text-anchor="middle" fill="#262626">2.89 m</text>
<text transform="translate(133.51,275.28) scale(0.95,1)" font-size="10.0" text-anchor="middle" fill="#262626">9.5 ft</text>
<text transform="translate(133.51,283.28) scale(0.95,1)" font-size="10.0" text-anchor="middle" fill="#262626">5:40 am</text>
<circle cx="174.79" cy="412.24" r="1.9" fill="#000"/>
<text transform="translate(174.79,422.74) scale(0.95,1)" font-size="10.0" text-anchor="middle" fill="#262626">−1.45 m</text>
<text transform="translate(174.79,433.14) scale(0.95,1)" font-size="10.0" text-anchor="middle" fill="#262626">−4.8 ft</text>
<text transform="translate(174.79,442.24) scale(0.95,1)" font-size="10.0" text-anchor="middle" fill="#262626">6:36 pm</text>
<circle cx="213.03" cy="250.01" r="1.9" fill="#000"/>
<text transform="translate(213.03,260.51) scale(0.95,1)" font-size="10.0" text-anchor="middle" fill="#262626">3.01 m</text>
<text transform="translate(213.03,270.91) scale(0.95,1)" font-size="10.0" text-anchor="middle" fill="#262626">9.9 ft</text>
<text transform="translate(213.03,278.91) scale(0.95,1)" font-size="10.0" text-anchor="middle" fill="#262626">6:35 am</text>
<circle cx="253.94" cy="399.15" r="1.9" fill="#000"/>
<text transform="translate(253.94,409.65) scale(0.95,1)" font-size="10.0" text-anchor="middle" fill="#262626">−1.09 m</text>
<text transform="translate(253.94,420.05) scale(0.95,1)" font-size="10.0" text-anchor="middle" fill="#262626">−3.6 ft</text>
<text transform="translate(253.94,429.15) scale(0.95,1)" font-size="10.0" text-anchor="middle" fill="#262626">7:24 pm</text>
<circle cx="292.82" cy="247.47" r="1.9" fill="#000"/>
<text transform="translate(292.82,257.97) scale(0.95,1)" font-size="10.0" text-anchor="middle" fill="#262626">3.08 m</text>
<text transform="translate(292.82,268.37) scale(0.95,1)" font-size="10.0" text-anchor="middle" fill="#262626">10.1 ft</text>
<text transform="translate(292.82,276.37) scale(0.95,1)" font-size="10.0" text-anchor="middle" fill="#262626">7:35 am</text>
<circle cx="333.14" cy="382.05" r="1.9" fill="#000"/>
<text transform="translate(333.14,392.55) scale(0.95,1)" font-size="10.0" text-anchor="middle" fill="#262626">−0.62 m</text>
<text transform="translate(333.14,402.95) scale(0.95,1)" font-size="10.0" text-anchor="middle" fill="#262626">−2.0 ft</text>
<text transform="translate(333.14,412.05) scale(0.95,1)" font-size="10.0" text-anchor="middle" fill="#262626">8:13 pm</text>
<circle cx="373.09" cy="248.56" r="1.9" fill="#000"/>
<text transform="translate(373.09,259.06) scale(0.95,1)" font-size="10.0" text-anchor="middle" fill="#262626">3.05 m</text>
<text transform="translate(373.09,269.46) scale(0.95,1)" font-size="10.0" text-anchor="middle" fill="#262626">10.0 ft</text>
<text transform="translate(373.09,277.46) scale(0.95,1)" font-size="10.0" text-anchor="middle" fill="#262626">8:44 am</text>
<circle cx="412.34" cy="363.14" r="1.9" fill="#000"/>
<text transform="translate(412.34,373.64) scale(0.95,1)" font-size="10.0" text-anchor="middle" fill="#262626">−0.10 m</text>
<text transform="translate(412.34,384.04) scale(0.95,1)" font-size="10.0" text-anchor="middle" fill="#262626">−0.3 ft</text>
<text transform="translate(412.34,393.14) scale(0.95,1)" font-size="10.0" text-anchor="middle" fill="#262626">9:02 pm</text>
<circle cx="453.67" cy="254.74" r="1.9" fill="#000"/>
<text transform="translate(453.67,265.24) scale(0.95,1)" font-size="10.0" text-anchor="middle" fill="#262626">2.88 m</text>
<text transform="translate(453.67,275.64) scale(0.95,1)" font-size="10.0" text-anchor="middle" fill="#262626">9.4 ft</text>
<text transform="translate(453.67,283.64) scale(0.95,1)" font-size="10.0" text-anchor="middle" fill="#262626">9:59 am</text>
<circle cx="491.65" cy="343.86" r="1.9" fill="#000"/>
<text transform="translate(491.65,354.36) scale(0.95,1)" font-size="10.0" text-anchor="middle" fill="#262626">0.43 m</text>
<text transform="translate(491.65,364.76) scale(0.95,1)" font-size="10.0" text-anchor="middle" fill="#262626">1.4 ft</text>
<text transform="translate(491.65,373.86) scale(0.95,1)" font-size="10.0" text-anchor="middle" fill="#262626">9:53 pm</text>
<circle cx="534.26" cy="267.11" r="1.9" fill="#000"/>
<text transform="translate(534.26,277.61) scale(0.95,1)" font-size="10.0" text-anchor="middle" fill="#262626">2.54 m</text>
<text transform="translate(534.26,288.01) scale(0.95,1)" font-size="10.0" text-anchor="middle" fill="#262626">8.3 ft</text>
<text transform="translate(534.26,296.01) scale(0.95,1)" font-size="10.0" text-anchor="middle" fill="#262626">11:14 am</text>
<circle cx="571.01" cy="325.31" r="1.9" fill="#000"/>
<text transform="translate(571.01,335.81) scale(0.95,1)" font-size="10.0" text-anchor="middle" fill="#262626">0.94 m</text>
<text transform="translate(571.01,346.21) scale(0.95,1)" font-size="10.0" text-anchor="middle" fill="#262626">3.1 ft</text>
<text transform="translate(571.01,355.31) scale(0.95,1)" font-size="10.0" text-anchor="middle" fill="#262626">10:45 pm</text>
<circle cx="614.47" cy="283.84" r="1.9" fill="#000"/>
<text transform="translate(614.47,294.34) scale(0.95,1)" font-size="10.0" text-anchor="middle" fill="#262626">2.08 m</text>
<text transform="translate(614.47,304.74) scale(0.95,1)" font-size="10.0" text-anchor="middle" fill="#262626">6.8 ft</text>
<text transform="translate(614.47,313.84) scale(0.95,1)" font-size="10.0" text-anchor="middle" fill="#262626">12:22 pm</text>
<circle cx="650.37" cy="307.85" r="1.9" fill="#000"/>
<text transform="translate(650.37,318.35) scale(0.95,1)" font-size="10.0" text-anchor="middle" fill="#262626">1.42 m</text>
<text transform="translate(650.37,328.75) scale(0.95,1)" font-size="10.0" text-anchor="middle" fill="#262626">4.7 ft</text>
<text transform="translate(650.37,337.85) scale(0.95,1)" font-size="10.0" text-anchor="middle" fill="#262626">11:37 pm</text>
<circle cx="694.10" cy="303.48" r="1.9" fill="#000"/>
<text transform="translate(694.10,313.98) scale(0.95,1)" font-size="10.0" text-anchor="middle" fill="#262626">1.54 m</text>
<text transform="translate(694.10,324.38) scale(0.95,1)" font-size="10.0" text-anchor="middle" fill="#262626">5.1 ft</text>
<text transform="translate(694.10,333.48) scale(0.95,1)" font-size="10.0" text-anchor="middle" fill="#262626">1:19 pm</text>
<text transform="translate(45.5,480.0) scale(0.975,1)" font-size="11.2" text-anchor="end" fill="#000">Sunrise</text>
<text transform="translate(746.8,480.0) scale(0.975,1)" font-size="11.2" fill="#000">Sunrise</text>
<text transform="translate(45.5,493.4) scale(0.975,1)" font-size="11.2" text-anchor="end" fill="#000">Sunset</text>
<text transform="translate(746.8,493.4) scale(0.975,1)" font-size="11.2" fill="#000">Sunset</text>
<text transform="translate(45.5,506.7) scale(0.975,1)" font-size="11.2" text-anchor="end" fill="#000">Moonrise</text>
<text transform="translate(746.8,506.7) scale(0.975,1)" font-size="11.2" fill="#000">Moonrise</text>
<text transform="translate(45.5,520.4) scale(0.975,1)" font-size="11.2" text-anchor="end" fill="#000">Moonset</text>
<text transform="translate(746.8,520.4) scale(0.975,1)" font-size="11.2" fill="#000">Moonset</text>
<polygon points="138.78,468.10 140.54,472.97 145.72,473.14 141.63,476.33 143.07,481.31 138.78,478.40 134.49,481.31 135.92,476.33 131.83,473.14 137.01,472.97" fill="#7a6a38"/><polygon points="138.78,470.50 143.44,473.89 141.66,479.36 135.90,479.36 134.12,473.89" fill="#b9b73e" stroke="#a0601a" stroke-width="1"/>
<text transform="translate(146.58,479.6) scale(0.92,1)" font-size="10.2" fill="#000">7:19am</text>
<polygon points="215.43,468.10 217.19,472.97 222.37,473.14 218.28,476.33 219.72,481.31 215.43,478.40 211.14,481.31 212.57,476.33 208.48,473.14 213.66,472.97" fill="#7a6a38"/><polygon points="215.43,470.50 220.09,473.89 218.31,479.36 212.55,479.36 210.77,473.89" fill="#b9b73e" stroke="#a0601a" stroke-width="1"/>
<text transform="translate(223.23,479.6) scale(0.92,1)" font-size="10.2" fill="#000">7:20am</text>
<polygon points="292.02,468.10 293.79,472.97 298.97,473.14 294.88,476.33 296.31,481.31 292.02,478.40 287.73,481.31 289.17,476.33 285.08,473.14 290.26,472.97" fill="#7a6a38"/><polygon points="292.02,470.50 296.68,473.89 294.90,479.36 289.14,479.36 287.36,473.89" fill="#b9b73e" stroke="#a0601a" stroke-width="1"/>
<text transform="translate(299.82,479.6) scale(0.92,1)" font-size="10.2" fill="#000">7:20am</text>
<polygon points="368.67,468.10 370.43,472.97 375.61,473.14 371.52,476.33 372.96,481.31 368.67,478.40 364.38,481.31 365.82,476.33 361.73,473.14 366.91,472.97" fill="#7a6a38"/><polygon points="368.67,470.50 373.33,473.89 371.55,479.36 365.79,479.36 364.01,473.89" fill="#b9b73e" stroke="#a0601a" stroke-width="1"/>
<text transform="translate(376.47,479.6) scale(0.92,1)" font-size="10.2" fill="#000">7:21am</text>
<polygon points="445.27,468.10 447.03,472.97 452.21,473.14 448.12,476.33 449.56,481.31 445.27,478.40 440.98,481.31 442.41,476.33 438.32,473.14 443.50,472.97" fill="#7a6a38"/><polygon points="445.27,470.50 449.93,473.89 448.15,479.36 442.39,479.36 440.61,473.89" fill="#b9b73e" stroke="#a0601a" stroke-width="1"/>
<text transform="translate(453.07,479.6) scale(0.92,1)" font-size="10.2" fill="#000">7:21am</text>
<polygon points="521.92,468.10 523.68,472.97 528.86,473.14 524.77,476.33 526.21,481.31 521.92,478.40 517.63,481.31 519.06,476.33 514.97,473.14 520.15,472.97" fill="#7a6a38"/><polygon points="521.92,470.50 526.58,473.89 524.80,479.36 519.04,479.36 517.26,473.89" fill="#b9b73e" stroke="#a0601a" stroke-width="1"/>
<text transform="translate(529.72,479.6) scale(0.92,1)" font-size="10.2" fill="#000">7:22am</text>
<polygon points="598.51,468.10 600.28,472.97 605.46,473.14 601.37,476.33 602.80,481.31 598.51,478.40 594.22,481.31 595.66,476.33 591.57,473.14 596.75,472.97" fill="#7a6a38"/><polygon points="598.51,470.50 603.17,473.89 601.39,479.36 595.63,479.36 593.85,473.89" fill="#b9b73e" stroke="#a0601a" stroke-width="1"/>
<text transform="translate(606.31,479.6) scale(0.92,1)" font-size="10.2" fill="#000">7:22am</text>
<polygon points="675.16,468.10 676.93,472.97 682.10,473.14 678.02,476.33 679.45,481.31 675.16,478.40 670.87,481.31 672.31,476.33 668.22,473.14 673.40,472.97" fill="#7a6a38"/><polygon points="675.16,470.50 679.82,473.89 678.04,479.36 672.28,479.36 670.50,473.89" fill="#b9b73e" stroke="#a0601a" stroke-width="1"/>
<text transform="translate(682.96,479.6) scale(0.92,1)" font-size="10.2" fill="#000">7:23am</text>
<polygon points="169.26,482.20 171.02,487.07 176.20,487.24 172.11,490.43 173.55,495.41 169.26,492.50 164.97,495.41 166.40,490.43 162.31,487.24 167.49,487.07" fill="#5a6a28"/><polygon points="169.26,484.60 173.92,487.99 172.14,493.46 166.38,493.46 164.60,487.99" fill="#6d7424" stroke="#a06a1a" stroke-width="1"/><circle cx="169.26" cy="489.50" r="3.6" fill="#e8683a"/>
<text transform="translate(177.06,493.6) scale(0.92,1)" font-size="10.2" fill="#000">4:52pm</text>
<polygon points="245.91,482.20 247.67,487.07 252.85,487.24 248.76,490.43 250.20,495.41 245.91,492.50 241.61,495.41 243.05,490.43 238.96,487.24 244.14,487.07" fill="#5a6a28"/><polygon points="245.91,484.60 250.57,487.99 248.79,493.46 243.03,493.46 241.24,487.99" fill="#6d7424" stroke="#a06a1a" stroke-width="1"/><circle cx="245.91" cy="489.50" r="3.6" fill="#e8683a"/>
<text transform="translate(253.71,493.6) scale(0.92,1)" font-size="10.2" fill="#000">4:53pm</text>
<polygon points="322.50,482.20 324.26,487.07 329.44,487.24 325.35,490.43 326.79,495.41 322.50,492.50 318.21,495.41 319.65,490.43 315.56,487.24 320.74,487.07" fill="#5a6a28"/><polygon points="322.50,484.60 327.16,487.99 325.38,493.46 319.62,493.46 317.84,487.99" fill="#6d7424" stroke="#a06a1a" stroke-width="1"/><circle cx="322.50" cy="489.50" r="3.6" fill="#e8683a"/>
<text transform="translate(330.30,493.6) scale(0.92,1)" font-size="10.2" fill="#000">4:53pm</text>
<polygon points="399.10,482.20 400.86,487.07 406.04,487.24 401.95,490.43 403.39,495.41 399.10,492.50 394.81,495.41 396.24,490.43 392.15,487.24 397.33,487.07" fill="#5a6a28"/><polygon points="399.10,484.60 403.76,487.99 401.98,493.46 396.22,493.46 394.44,487.99" fill="#6d7424" stroke="#a06a1a" stroke-width="1"/><circle cx="399.10" cy="489.50" r="3.6" fill="#e8683a"/>
<text transform="translate(406.90,493.6) scale(0.92,1)" font-size="10.2" fill="#000">4:53pm</text>
<polygon points="475.75,482.20 477.51,487.07 482.69,487.24 478.60,490.43 480.04,495.41 475.75,492.50 471.46,495.41 472.89,490.43 468.80,487.24 473.98,487.07" fill="#5a6a28"/><polygon points="475.75,484.60 480.41,487.99 478.63,493.46 472.87,493.46 471.09,487.99" fill="#6d7424" stroke="#a06a1a" stroke-width="1"/><circle cx="475.75" cy="489.50" r="3.6" fill="#e8683a"/>
<text transform="translate(483.55,493.6) scale(0.92,1)" font-size="10.2" fill="#000">4:54pm</text>
<polygon points="552.34,482.20 554.11,487.07 559.29,487.24 555.20,490.43 556.63,495.41 552.34,492.50 548.05,495.41 549.49,490.43 545.40,487.24 550.58,487.07" fill="#5a6a28"/><polygon points="552.34,484.60 557.00,487.99 555.22,493.46 549.46,493.46 547.68,487.99" fill="#6d7424" stroke="#a06a1a" stroke-width="1"/><circle cx="552.34" cy="489.50" r="3.6" fill="#e8683a"/>
<text transform="translate(560.14,493.6) scale(0.92,1)" font-size="10.2" fill="#000">4:54pm</text>
<polygon points="628.99,482.20 630.75,487.07 635.93,487.24 631.84,490.43 633.28,495.41 628.99,492.50 624.70,495.41 626.14,490.43 622.05,487.24 627.23,487.07" fill="#5a6a28"/><polygon points="628.99,484.60 633.65,487.99 631.87,493.46 626.11,493.46 624.33,487.99" fill="#6d7424" stroke="#a06a1a" stroke-width="1"/><circle cx="628.99" cy="489.50" r="3.6" fill="#e8683a"/>
<text transform="translate(636.79,493.6) scale(0.92,1)" font-size="10.2" fill="#000">4:55pm</text>
<circle cx="145.69" cy="503" r="5.1" fill="#fffbc4" stroke="#8c8c8c" stroke-width="0.9"/>
<text transform="translate(152.69,506.6) scale(0.92,1)" font-size="10.2" fill="#000">9:29am</text>
<circle cx="224.89" cy="503" r="5.1" fill="#fffbc4" stroke="#8c8c8c" stroke-width="0.9"/>
<text transform="translate(231.89,506.6) scale(0.92,1)" font-size="10.2" fill="#000">10:18am</text>
<circle cx="303.62" cy="503" r="5.1" fill="#fffbc4" stroke="#8c8c8c" stroke-width="0.9"/>
<text transform="translate(310.62,506.6) scale(0.92,1)" font-size="10.2" fill="#000">10:58am</text>
<circle cx="382.02" cy="503" r="5.1" fill="#fffbc4" stroke="#8c8c8c" stroke-width="0.9"/>
<text transform="translate(389.02,506.6) scale(0.92,1)" font-size="10.2" fill="#000">11:32am</text>
<circle cx="460.16" cy="503" r="5.1" fill="#fffbc4" stroke="#8c8c8c" stroke-width="0.9"/>
<text transform="translate(467.16,506.6) scale(0.92,1)" font-size="10.2" fill="#000">12:01pm</text>
<circle cx="538.19" cy="503" r="5.1" fill="#fffbc4" stroke="#8c8c8c" stroke-width="0.9"/>
<text transform="translate(545.19,506.6) scale(0.92,1)" font-size="10.2" fill="#000">12:28pm</text>
<circle cx="616.07" cy="503" r="5.1" fill="#fffbc4" stroke="#8c8c8c" stroke-width="0.9"/>
<text transform="translate(623.07,506.6) scale(0.92,1)" font-size="10.2" fill="#000">12:52pm</text>
<circle cx="693.94" cy="503" r="5.1" fill="#fffbc4" stroke="#8c8c8c" stroke-width="0.9"/>
<text transform="translate(700.94,506.6) scale(0.92,1)" font-size="10.2" fill="#000">1:16pm</text>
<circle cx="96.44" cy="516.6" r="5.1" fill="#c9c7b2" stroke="#8c8c8c" stroke-width="0.9"/>
<text transform="translate(103.44,520.6) scale(0.92,1)" font-size="10.2" fill="#000">6:03pm</text>
<circle cx="176.49" cy="516.6" r="5.1" fill="#c9c7b2" stroke="#8c8c8c" stroke-width="0.9"/>
<text transform="translate(183.49,520.6) scale(0.92,1)" font-size="10.2" fill="#000">7:08pm</text>
<circle cx="256.60" cy="516.6" r="5.1" fill="#c9c7b2" stroke="#8c8c8c" stroke-width="0.9"/>
<text transform="translate(263.60,520.6) scale(0.92,1)" font-size="10.2" fill="#000">8:14pm</text>
<circle cx="336.70" cy="516.6" r="5.1" fill="#c9c7b2" stroke="#8c8c8c" stroke-width="0.9"/>
<text transform="translate(343.70,520.6) scale(0.92,1)" font-size="10.2" fill="#000">9:20pm</text>
<circle cx="416.65" cy="516.6" r="5.1" fill="#c9c7b2" stroke="#8c8c8c" stroke-width="0.9"/>
<text transform="translate(423.65,520.6) scale(0.92,1)" font-size="10.2" fill="#000">10:23pm</text>
<circle cx="496.44" cy="516.6" r="5.1" fill="#c9c7b2" stroke="#8c8c8c" stroke-width="0.9"/>
<text transform="translate(503.44,520.6) scale(0.92,1)" font-size="10.2" fill="#000">11:23pm</text>
<circle cx="576.17" cy="516.6" r="5.1" fill="#c9c7b2" stroke="#8c8c8c" stroke-width="0.9"/>
<text transform="translate(583.17,520.6) scale(0.92,1)" font-size="10.2" fill="#000">12:22am</text>
<circle cx="655.80" cy="516.6" r="5.1" fill="#c9c7b2" stroke="#8c8c8c" stroke-width="0.9"/>
<text transform="translate(662.80,520.6) scale(0.92,1)" font-size="10.2" fill="#000">1:19am</text>
<text transform="translate(492.8,534.2) scale(0.978,1)" font-size="9.5" fill="#000">First Quarter | 3:42pm</text>
</svg></body></html>
